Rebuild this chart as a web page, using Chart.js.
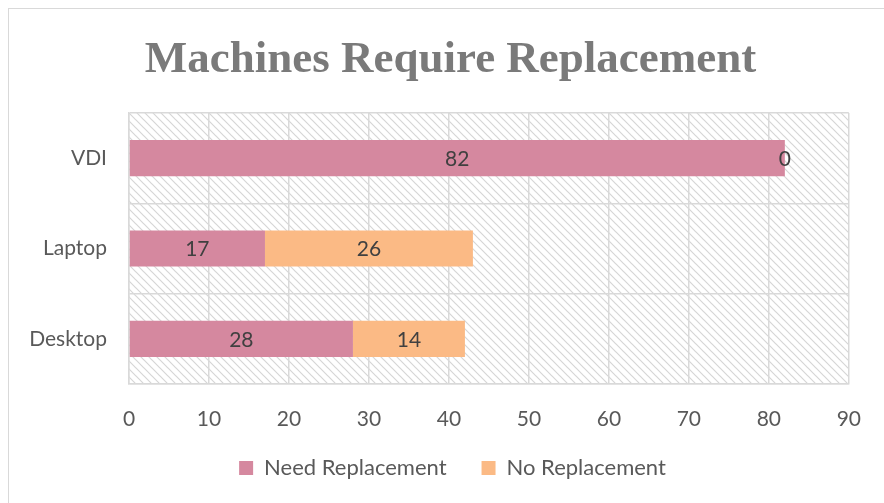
<!DOCTYPE html>
<html>
<head>
<meta charset="utf-8">
<script src="https://cdn.jsdelivr.net/npm/chart.js@4"></script>
<style>
  html, body { margin: 0; padding: 0; background: #fff; }
  #wrap { width: 884px; height: 503px; }
</style>
</head>
<body>
<div id="wrap"><canvas id="myChart" width="884" height="503"></canvas></div>
<script>
var categories = ["VDI", "Laptop", "Desktop"];
var needReplacement = [82, 17, 28];
var noReplacement = [0, 26, 14];
var xTicks = [0, 10, 20, 30, 40, 50, 60, 70, 80, 90];

var pink = "#D5889F";
var orange = "#FBBA85";
var bodyFont = "Lato, 'Open Sans', sans-serif";

// hatch pattern for the plot area
function makeHatch() {
    var c = document.createElement("canvas");
    c.width = 8;
    c.height = 8;
    var g = c.getContext("2d");
    g.fillStyle = "#fff";
    g.fillRect(0, 0, 8, 8);
    g.strokeStyle = "#d6d6d6";
    g.lineWidth = 1.2;
    g.beginPath();
    g.moveTo(-2, -2); g.lineTo(10, 10);
    g.moveTo(-2, 6); g.lineTo(2, 10);
    g.moveTo(6, -2); g.lineTo(10, 2);
    g.stroke();
    return c;
}

var backgroundPlugin = {
    id: "bg",
    afterLayout: function(chart) {
        // title and legend sit a bit right of the plot-area box in the original
        var t = chart.titleBlock;
        if (t) { t.left += 25; t.right += 25; }
        var l = chart.legend;
        if (l) { l.left += 27; l.right += 27; l.top -= 9; l.bottom -= 9; }
    },
    beforeDraw: function(chart) {
        var ctx = chart.ctx;
        var a = chart.chartArea;
        ctx.save();
        ctx.fillStyle = "#fff";
        ctx.fillRect(0, 0, chart.width, chart.height);
        ctx.fillStyle = ctx.createPattern(makeHatch(), "repeat");
        ctx.fillRect(a.left, a.top, a.right - a.left, a.bottom - a.top);
        // outer chart border
        ctx.strokeStyle = "#d9d9d9";
        ctx.lineWidth = 1;
        ctx.strokeRect(8.5, 8.5, chart.width + 10, chart.height + 10);
        ctx.restore();
    }
};

var labelPlugin = {
    id: "barLabels",
    afterDatasetsDraw: function(chart) {
        var ctx = chart.ctx;
        ctx.save();
        ctx.fillStyle = "#404040";
        ctx.font = "21px " + bodyFont;
        ctx.textAlign = "center";
        ctx.textBaseline = "middle";
        chart.data.datasets.forEach(function(ds, di) {
            var meta = chart.getDatasetMeta(di);
            meta.data.forEach(function(bar, i) {
                var cx = (bar.x + bar.base) / 2;
                ctx.fillText(ds.data[i], cx, bar.y + 1);
            });
        });
        ctx.restore();
    }
};

var ctx = document.getElementById("myChart").getContext("2d");
var myChart = new Chart(ctx, {
    type: "bar",
    data: {
        labels: categories,
        datasets: [{
            label: "Need Replacement",
            data: needReplacement,
            backgroundColor: pink,
            barPercentage: 0.4,
            categoryPercentage: 1
        }, {
            label: "No Replacement",
            data: noReplacement,
            backgroundColor: orange,
            barPercentage: 0.4,
            categoryPercentage: 1
        }]
    },
    options: {
        indexAxis: "y",
        responsive: false,
        animation: false,
        layout: { padding: { left: 0, right: 33, top: 0, bottom: 5 } },
        scales: {
            x: {
                stacked: true,
                min: 0,
                max: 90,
                afterBuildTicks: function(scale) {
                    scale.ticks = xTicks.map(function(v) { return { value: v }; });
                },
                afterFit: function(scale) { scale.height = 47; },
                grid: { color: "#d9d9d9", lineWidth: 1.5, drawTicks: false },
                border: { color: "#d9d9d9", width: 1.5 },
                ticks: { color: "#595959", font: { size: 21, family: bodyFont }, padding: 23 }
            },
            y: {
                stacked: true,
                afterFit: function(scale) { scale.width = 129; },
                grid: { color: "#d9d9d9", lineWidth: 1.5, drawTicks: false },
                border: { color: "#d9d9d9", width: 1.5 },
                ticks: { color: "#595959", font: { size: 21, family: bodyFont }, padding: 22 }
            }
        },
        plugins: {
            title: {
                display: true,
                text: "Machines Require Replacement",
                color: "#7a7a7a",
                font: { size: 45, weight: "bold", family: "'Liberation Serif', serif" },
                padding: { top: 33, bottom: 26 }
            },
            legend: {
                position: "bottom",
                labels: {
                    color: "#595959",
                    font: { size: 22, family: bodyFont },
                    boxWidth: 14,
                    boxHeight: 14,
                    padding: 35
                }
            },
            tooltip: { enabled: false }
        }
    },
    plugins: [backgroundPlugin, labelPlugin]
});
</script>
</body>
</html>
